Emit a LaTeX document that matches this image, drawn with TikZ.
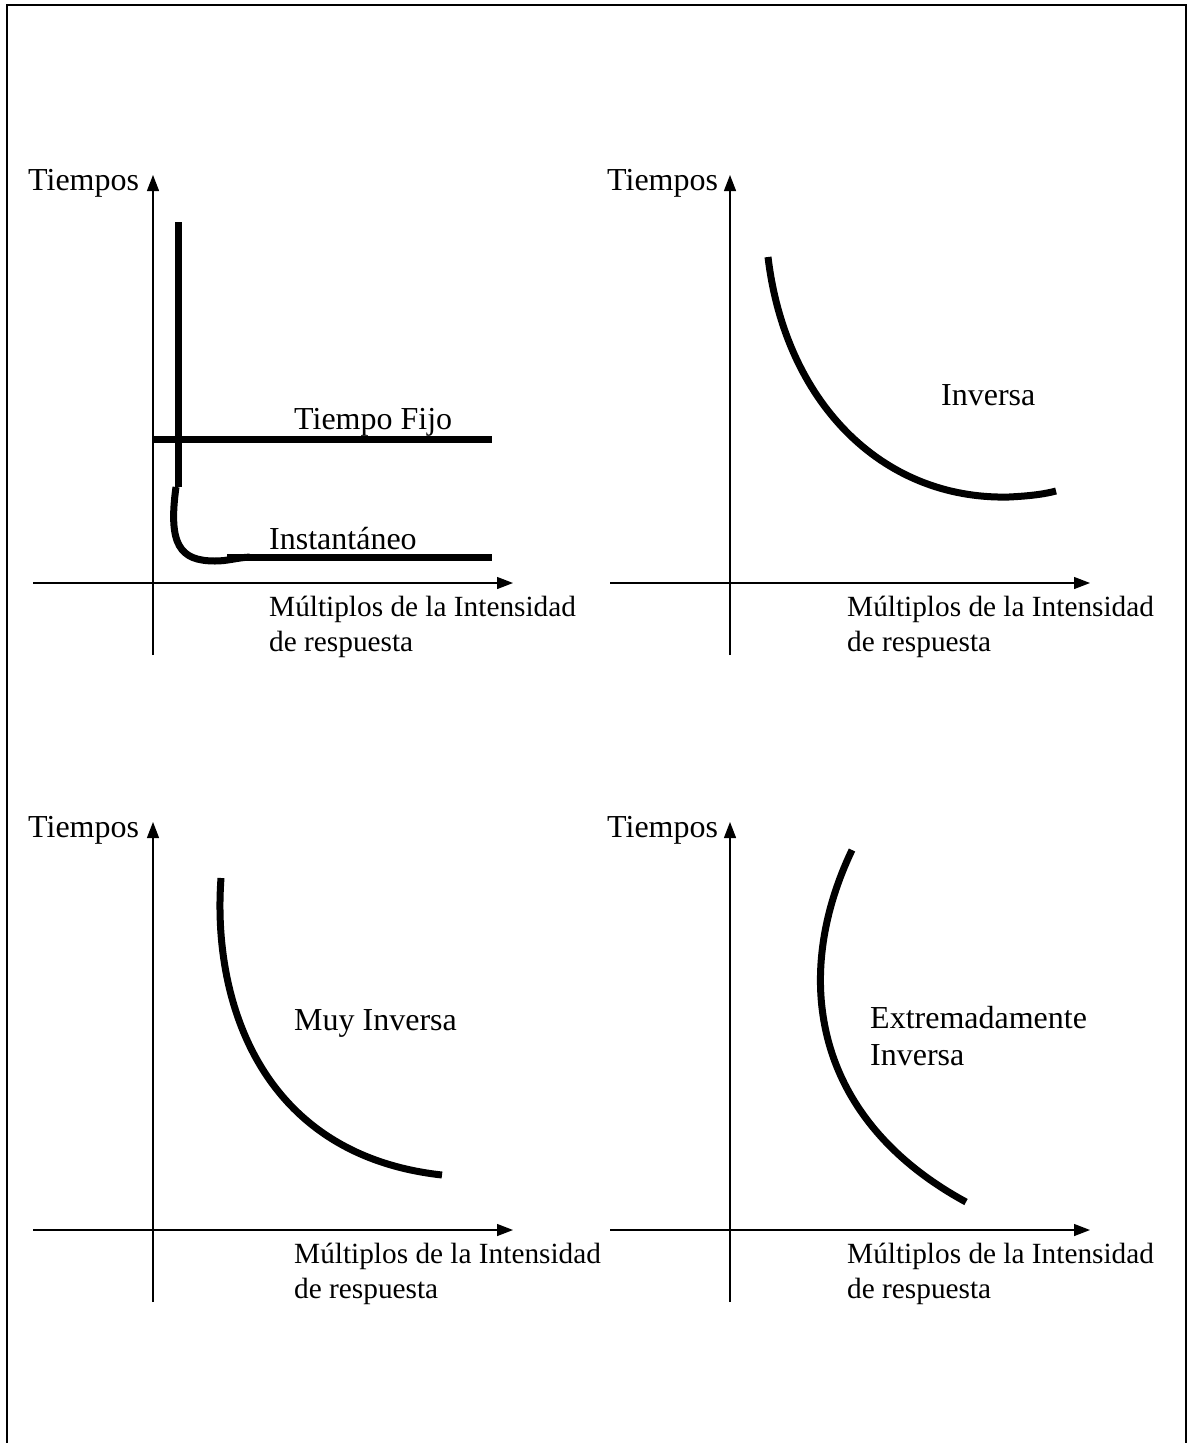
\documentclass[tikz,border=0pt]{standalone}
\usepackage{fontspec}
\setmainfont{Liberation Serif}
\usetikzlibrary{arrows.meta}
\begin{document}
\begin{tikzpicture}[x=1pt,y=-1pt,
  axis/.style={line width=1.3pt,-{Triangle[length=16pt,width=12pt]}},
  curve/.style={line width=7pt},
  frame/.style={line width=2pt},
  big/.style={inner sep=0pt, anchor=base west, font=\fontsize{32}{37}\selectfont},
  small/.style={inner sep=0pt, anchor=base west, font=\fontsize{29.3}{35}\selectfont},
]
\useasboundingbox (0,0) rectangle (1194,1443);

% page frame, open at the bottom
\coordinate (fbl) at (7,1443);
\coordinate (ftl) at (7,5);
\coordinate (ftr) at (1186,5);
\coordinate (fbr) at (1186,1443);
\draw[frame] (fbl) -- (ftl) -- (ftr) -- (fbr);

% ---------- panel 1: tiempo fijo / instantaneo ----------
\coordinate (p1yb) at (153,655);
\coordinate (p1yt) at (153,175);
\coordinate (p1xl) at (33,583);
\coordinate (p1xr) at (513,583);
\draw[axis] (p1yb) -- (p1yt);
\draw[axis] (p1xl) -- (p1xr);
\node[big] (p1t) at (28,190) {Tiempos};
\node[small] (p1m) at (269,616) {Múltiplos de la Intensidad};
\node[small] (p1r) at (269,651) {de respuesta};
\node[big] (p1f) at (294,429) {Tiempo Fijo};
\node[big] (p1i) at (269,549) {Instantáneo};
\coordinate (fija) at (153,439);
\coordinate (fijb) at (492,439);
\draw[curve] (fija) -- (fijb);
\coordinate (insa) at (178,222);
\coordinate (insb) at (178,487);
\draw[curve] (insa) -- (insb);
\coordinate (insk) at (176,487);
\coordinate (insl) at (215,561);
\coordinate (insm) at (250,557);
\draw[curve] (insk) .. controls (168,545) and (180,561) .. (insl)
  .. controls (228,561) and (235,558) .. (insm);
\coordinate (insc) at (227,557);
\coordinate (insd) at (492,557);
\draw[curve] (insc) -- (insd);

% ---------- panel 2: inversa ----------
\coordinate (p2yb) at (730,655);
\coordinate (p2yt) at (730,175);
\coordinate (p2xl) at (610,583);
\coordinate (p2xr) at (1090,583);
\draw[axis] (p2yb) -- (p2yt);
\draw[axis] (p2xl) -- (p2xr);
\node[big] (p2t) at (607,190) {Tiempos};
\node[small] (p2m) at (847,616) {Múltiplos de la Intensidad};
\node[small] (p2r) at (847,651) {de respuesta};
\node[big] (p2c) at (941,405) {Inversa};
\coordinate (c2a) at (768,257);
\coordinate (c2b) at (1009,497);
\coordinate (c2c) at (1056,491);
\draw[curve] (c2a) .. controls (785,400) and (880,500) .. (c2b)
  .. controls (1030,496) and (1045,494) .. (c2c);

% ---------- panel 3: muy inversa ----------
\coordinate (p3yb) at (153,1302);
\coordinate (p3yt) at (153,822);
\coordinate (p3xl) at (33,1230);
\coordinate (p3xr) at (513,1230);
\draw[axis] (p3yb) -- (p3yt);
\draw[axis] (p3xl) -- (p3xr);
\node[big] (p3t) at (28,837) {Tiempos};
\node[small] (p3m) at (294,1263) {Múltiplos de la Intensidad};
\node[small] (p3r) at (294,1298) {de respuesta};
\node[big] (p3c) at (294,1030) {Muy Inversa};
\coordinate (c3a) at (221,878);
\coordinate (c3b) at (442,1175);
\draw[curve] (c3a) .. controls (212,1000) and (260,1155) .. (c3b);

% ---------- panel 4: extremadamente inversa ----------
\coordinate (p4yb) at (730,1302);
\coordinate (p4yt) at (730,822);
\coordinate (p4xl) at (610,1230);
\coordinate (p4xr) at (1090,1230);
\draw[axis] (p4yb) -- (p4yt);
\draw[axis] (p4xl) -- (p4xr);
\node[big] (p4t) at (607,837) {Tiempos};
\node[small] (p4m) at (847,1263) {Múltiplos de la Intensidad};
\node[small] (p4r) at (847,1298) {de respuesta};
\node[big] (p4c) at (870,1028) {Extremadamente};
\node[big] (p4d) at (870,1065) {Inversa};
\coordinate (c4a) at (852,850);
\coordinate (c4b) at (966,1202);
\draw[curve] (c4a) .. controls (790,980) and (815,1120) .. (c4b);
\end{tikzpicture}
\end{document}
